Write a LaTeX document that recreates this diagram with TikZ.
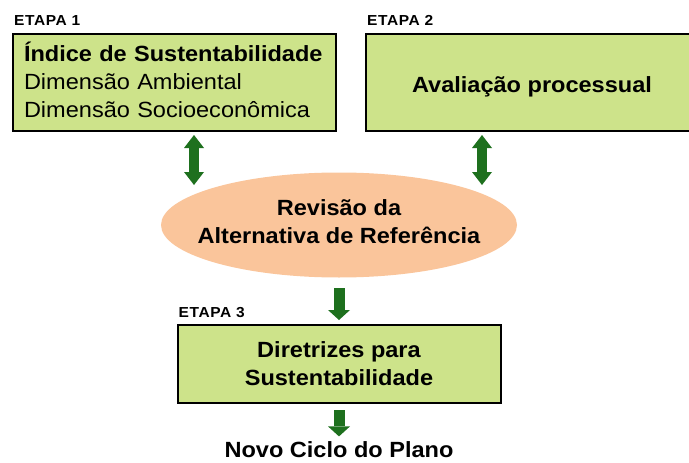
\documentclass[tikz,border=0pt]{standalone}
\usepackage{fontspec}
\setmainfont{Liberation Sans}[FakeStretch=1.07]
\usetikzlibrary{arrows.meta,positioning,shapes.geometric}
\definecolor{boxgreen}{HTML}{CDE38A}
\definecolor{arrowgreen}{HTML}{1E701E}
\definecolor{peach}{HTML}{FAC59B}

\begin{document}
\begin{tikzpicture}[x=1pt,y=-1pt,>=Latex,font=\fontsize{22}{28}\selectfont]

\tikzset{
box/.style={
    draw=black,
    line width=2pt,
    fill=boxgreen,
    inner sep=0pt,
    align=center
},
bold/.style={font=\fontsize{22}{28}\selectfont\bfseries},
etapa/.style={font=\fontsize{14.5}{16}\selectfont\bfseries\addfontfeature{LetterSpace=4},anchor=base west,inner sep=0pt},
dbl/.style={draw=arrowgreen,line width=10pt,
    {Triangle[width=20pt,length=13pt,line width=0pt]}-{Triangle[width=20pt,length=13pt,line width=0pt]}},
down/.style={draw=arrowgreen,line width=11pt,-{Triangle[width=22pt,length=10pt,line width=0pt]}}
}

\useasboundingbox (0,0) rectangle (689,463);

\node[box,minimum width=323pt,minimum height=97pt,text width=301pt,align=left] (indice) at (174.5,82.5)
    {\textbf{Índice de Sustentabilidade}\\Dimensão Ambiental\\Dimensão Socioeconômica\vphantom{gj}\rule{0pt}{0pt}\\[-6pt]};
\node[box,bold,minimum width=332pt,minimum height=97pt] (avaliacao) at (532,82.5)
    {\raisebox{-4pt}[\height][\depth]{Avaliação processual}};
\node[ellipse,fill=peach,minimum width=356pt,minimum height=105pt,inner sep=0pt] (revisao) at (339,225) {};
\node[bold,align=center,yshift=3pt] (revisaotxt) at (revisao) {Revisão da\\Alternativa de Referência};
\node[box,bold,minimum width=323pt,minimum height=78pt] (diretrizes) at (339,364) {Diretrizes para\\Sustentabilidade};
\node[bold] (novo) at (339,450) {Novo Ciclo do Plano};

\node[etapa] (etapa1) at ([xshift=2pt,yshift=7pt]indice.north west) {ETAPA 1};
\node[etapa] (etapa2) at ([xshift=2pt,yshift=7pt]avaliacao.north west) {ETAPA 2};
\node[etapa] (etapa3) at ([xshift=2pt,yshift=7pt]diretrizes.north west) {ETAPA 3};

\draw[dbl] ([xshift=19.5pt,yshift=-3pt]indice.south) -- ++(0,50);
\draw[dbl] ([xshift=-50pt,yshift=-3pt]avaliacao.south) -- ++(0,50);
\draw[down,shorten <=10.5pt,shorten >=4pt] (revisao) -- (diretrizes);
\draw[down,shorten <=6pt,shorten >=2pt] (diretrizes) -- (novo);

\end{tikzpicture}
\end{document}
